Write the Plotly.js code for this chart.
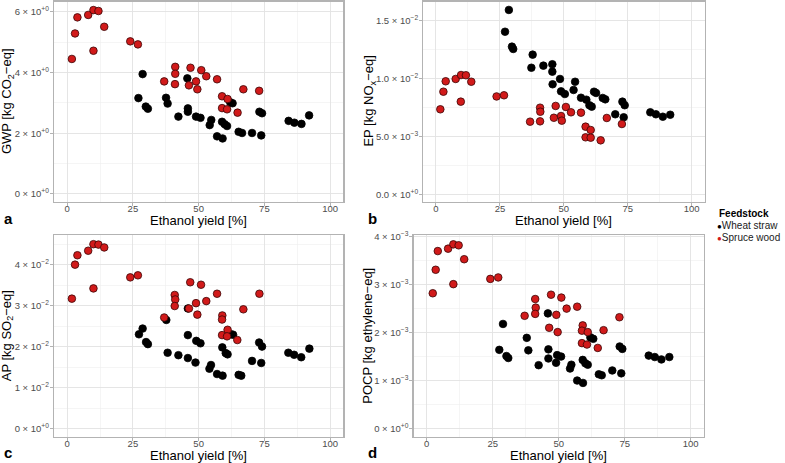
<!DOCTYPE html>
<html>
<head>
<meta charset="utf-8">
<script src="https://cdn.plot.ly/plotly-3.0.1.min.js"></script>
<style>html,body{margin:0;padding:0;background:#fff;}#chart{width:785px;height:463px;}</style>
</head>
<body>
<div id="chart"></div>
<script>
// ---------------- data ----------------
const feedstocks = ["Wheat straw", "Spruce wood"];
const xTicks = [0, 25, 50, 75, 100];
const xTickLabels = ["0", "25", "50", "75", "100"];

// Panel a: GWP [kg CO2-eq]
const wheatYieldGWP = [27.1, 28.7, 29.9, 30.7, 37.6, 38.2, 42.3, 45.7, 45.9, 45.9, 49.0, 50.7, 54.2, 54.8, 57.0, 58.9, 59.1, 59.9, 60.8, 62.0, 62.9, 65.2, 66.5, 70.3, 73.1, 73.8, 74.1, 84.2, 86.4, 89.1, 92.0];
const wheatGWP = [3.16, 3.95, 2.88, 2.81, 3.17, 2.98, 2.55, 3.81, 2.82, 2.71, 2.55, 2.51, 2.27, 2.44, 1.90, 2.38, 1.83, 2.30, 2.24, 3.02, 2.99, 2.05, 2.01, 2.01, 2.71, 1.93, 2.66, 2.41, 2.35, 2.31, 2.59];
const spruceYieldGWP = [1.8, 3.0, 3.9, 8.0, 10.0, 11.9, 14.1, 10.0, 24.0, 26.9, 36.9, 41.1, 41.1, 41.0, 46.9, 49.0, 46.3, 49.5, 51.0, 52.9, 57.0, 58.9, 61.0, 58.9, 60.8, 64.8, 67.0, 73.0];
const spruceGWP = [4.45, 5.29, 5.82, 5.90, 6.06, 6.03, 5.51, 4.72, 5.03, 4.93, 3.71, 4.19, 3.96, 3.62, 4.16, 3.71, 3.58, 3.45, 4.08, 3.88, 3.78, 3.22, 3.13, 2.83, 2.79, 2.68, 3.45, 3.40];
const gwpTicks = [0, 2, 4, 6];
const gwpTickLabels = ["0 × 10<sup>+0</sup>", "2 × 10<sup>+0</sup>", "4 × 10<sup>+0</sup>", "6 × 10<sup>+0</sup>"];

// Panel b: EP [kg NOx-eq]
const wheatYieldEP = [27.0, 28.5, 29.7, 30.2, 37.3, 37.8, 42.0, 45.5, 45.5, 45.6, 48.5, 48.9, 50.4, 53.8, 54.4, 56.7, 58.8, 60.0, 60.9, 61.8, 62.6, 65.2, 66.2, 70.1, 72.9, 73.4, 73.8, 83.8, 86.0, 88.7, 91.6];
const wheatEP = [0.01404, 0.01592, 0.01275, 0.01255, 0.01093, 0.01206, 0.01111, 0.01123, 0.01059, 0.00950, 0.00996, 0.00889, 0.00866, 0.00901, 0.00972, 0.00834, 0.00817, 0.00769, 0.00757, 0.00886, 0.00875, 0.00832, 0.00820, 0.00691, 0.00800, 0.00665, 0.00769, 0.00708, 0.00691, 0.00670, 0.00687];
const spruceYieldEP = [1.7, 2.9, 3.8, 7.7, 9.8, 11.7, 13.8, 9.7, 23.7, 26.6, 36.8, 40.7, 40.8, 40.7, 46.8, 46.1, 48.9, 49.2, 50.8, 52.8, 56.7, 58.5, 60.5, 58.5, 60.5, 64.4, 66.8, 72.7];
const spruceEP = [0.00734, 0.00886, 0.00976, 0.00996, 0.01030, 0.01028, 0.00972, 0.00800, 0.00845, 0.00855, 0.00627, 0.00748, 0.00713, 0.00630, 0.00763, 0.00661, 0.00676, 0.00636, 0.00754, 0.00708, 0.00705, 0.00584, 0.00555, 0.00492, 0.00489, 0.00466, 0.00659, 0.00607];
const epTicks = [0, 0.005, 0.01, 0.015];
const epTickLabels = ["0.0 × 10<sup>+0</sup>", "5.0 × 10<sup>−3</sup>", "1.0 × 10<sup>−2</sup>", "1.5 × 10<sup>−2</sup>"];

// Panel c: AP [kg SO2-eq]
const wheatYieldAP = [27.3, 28.7, 30.0, 30.7, 37.7, 38.2, 42.3, 45.9, 45.9, 45.9, 48.8, 49.1, 50.7, 54.1, 54.7, 57.0, 59.0, 59.1, 60.3, 61.0, 62.3, 63.1, 65.2, 66.2, 70.3, 73.0, 73.8, 74.1, 84.1, 86.3, 89.0, 92.1];
const wheatAP = [0.0230, 0.0244, 0.0211, 0.0206, 0.0265, 0.0185, 0.0179, 0.0293, 0.0228, 0.0172, 0.0161, 0.0214, 0.0208, 0.0146, 0.0155, 0.0133, 0.0198, 0.0129, 0.0184, 0.0181, 0.0230, 0.0229, 0.0131, 0.0129, 0.0165, 0.0210, 0.0160, 0.0200, 0.0185, 0.0180, 0.0174, 0.0195];
const spruceYieldAP = [1.8, 3.0, 3.9, 8.0, 10.0, 11.9, 14.1, 10.0, 24.0, 26.9, 36.9, 40.9, 41.1, 40.9, 46.8, 50.9, 46.3, 49.0, 49.5, 52.9, 57.0, 59.0, 58.9, 61.0, 58.9, 60.8, 64.7, 67.0, 73.1];
const spruceAP = [0.0317, 0.0400, 0.0423, 0.0434, 0.0450, 0.0449, 0.0442, 0.0342, 0.0369, 0.0374, 0.0271, 0.0326, 0.0315, 0.0299, 0.0357, 0.0351, 0.0293, 0.0306, 0.0278, 0.0311, 0.0329, 0.0276, 0.0266, 0.0241, 0.0228, 0.0225, 0.0216, 0.0291, 0.0329];
const apTicks = [0, 0.01, 0.02, 0.03, 0.04];
const apTickLabels = ["0 × 10<sup>+0</sup>", "1 × 10<sup>−2</sup>", "2 × 10<sup>−2</sup>", "3 × 10<sup>−2</sup>", "4 × 10<sup>−2</sup>"];

// Panel d: POCP [kg ethylene-eq]
const wheatYieldPOCP = [27.5, 28.9, 30.2, 30.9, 37.9, 38.5, 42.4, 45.9, 46.1, 46.1, 49.0, 49.4, 50.9, 54.3, 54.8, 57.0, 59.2, 59.1, 60.1, 61.0, 62.0, 63.1, 65.2, 66.3, 70.3, 73.1, 74.1, 73.7, 84.1, 86.4, 88.9, 91.9];
const wheatPOCP = [0.00164, 0.00218, 0.00151, 0.00147, 0.00189, 0.00163, 0.00132, 0.00240, 0.00165, 0.00146, 0.00137, 0.00153, 0.00150, 0.00125, 0.00133, 0.00100, 0.00095, 0.00143, 0.00136, 0.00133, 0.00190, 0.00187, 0.00113, 0.00111, 0.00121, 0.00171, 0.00166, 0.00115, 0.00152, 0.00149, 0.00144, 0.00149];
const spruceYieldPOCP = [2.3, 3.4, 4.2, 8.1, 10.1, 12.1, 14.2, 10.1, 24.1, 27.1, 37.1, 41.1, 41.3, 41.1, 47.1, 51.0, 46.4, 49.1, 49.6, 53.0, 57.0, 59.1, 58.8, 61.0, 58.8, 60.7, 64.8, 67.0, 73.0];
const sprucePOCP = [0.00282, 0.00331, 0.00370, 0.00375, 0.00384, 0.00382, 0.00353, 0.00301, 0.00312, 0.00315, 0.00235, 0.00270, 0.00252, 0.00239, 0.00279, 0.00273, 0.00210, 0.00237, 0.00201, 0.00250, 0.00254, 0.00215, 0.00204, 0.00201, 0.00178, 0.00175, 0.00168, 0.00205, 0.00232];
const pocpTicks = [0, 0.001, 0.002, 0.003, 0.004];
const pocpTickLabels = ["0 × 10<sup>+0</sup>", "1 × 10<sup>−3</sup>", "2 × 10<sup>−3</sup>", "3 × 10<sup>−3</sup>", "4 × 10<sup>−3</sup>"];

// ---------------- styling ----------------
const W = 785, H = 463;
const FONT = "Liberation Sans, Arial, Helvetica, sans-serif";
const wheatColor = "#000000";
const spruceColor = "#d11a1a";
const px = v => v / W;
const py = v => 1 - v / H;

function markerStyle(fill, line) {
  return { size: 7.6, color: fill, line: { color: line, width: 0.8 } };
}

function traces(xw, yw, xs, ys, xa, ya) {
  return [
    { type: "scatter", mode: "markers", name: feedstocks[0], x: xw, y: yw, xaxis: xa, yaxis: ya,
      marker: markerStyle(wheatColor, "#000000"), showlegend: false, hoverinfo: "x+y" },
    { type: "scatter", mode: "markers", name: feedstocks[1], x: xs, y: ys, xaxis: xa, yaxis: ya,
      marker: markerStyle(spruceColor, "#3a0505"), showlegend: false, hoverinfo: "x+y" }
  ];
}

const data = [].concat(
  traces(wheatYieldGWP, wheatGWP, spruceYieldGWP, spruceGWP, "x", "y"),
  traces(wheatYieldEP, wheatEP, spruceYieldEP, spruceEP, "x2", "y2"),
  traces(wheatYieldAP, wheatAP, spruceYieldAP, spruceAP, "x3", "y3"),
  traces(wheatYieldPOCP, wheatPOCP, spruceYieldPOCP, sprucePOCP, "x4", "y4")
);

const borderColor = "#b3b3b3";
const gridMajor = "#e2e2e2";
const gridMinor = "#efefef";

function xAxis(domainPx, anchor) {
  return {
    domain: [px(domainPx[0]), px(domainPx[1])], anchor: anchor,
    range: [-5, 105], tickmode: "array", tickvals: xTicks, ticktext: xTickLabels,
    showline: true, mirror: true, linecolor: borderColor, linewidth: 1.2,
    ticks: "outside", ticklen: 3, tickwidth: 1, tickcolor: borderColor,
    ticklabelstandoff: -5,
    showgrid: true, gridcolor: gridMajor, gridwidth: 0.9, zeroline: false,
    minor: { tickmode: "linear", tick0: 12.5, dtick: 25, showgrid: true, gridcolor: gridMinor, gridwidth: 0.6, ticks: "" },
    tickfont: { family: FONT, size: 9.5, color: "#4d4d4d" }, fixedrange: true
  };
}
function yAxis(domainPx, anchor, range, tickvals, ticktext, minor0, minorStep) {
  return {
    domain: [py(domainPx[1]), py(domainPx[0])], anchor: anchor,
    range: range, tickmode: "array", tickvals: tickvals, ticktext: ticktext,
    showline: true, mirror: true, linecolor: borderColor, linewidth: 1.2,
    ticks: "outside", ticklen: 3, tickwidth: 1, tickcolor: borderColor,
    ticklabelstandoff: -1,
    showgrid: true, gridcolor: gridMajor, gridwidth: 0.9, zeroline: false,
    minor: { tickmode: "linear", tick0: minor0, dtick: minorStep, showgrid: true, gridcolor: gridMinor, gridwidth: 0.6, ticks: "" },
    tickfont: { family: FONT, size: 9.5, color: "#4d4d4d" }, fixedrange: true
  };
}

// panel geometry in pixels
const aX = [54.0, 343.3], bX = [423.2, 704.5], cX = [54.0, 343.3], dX = [413.5, 703.9];
const topY = [1.5, 201.7], botY = [235.0, 436.5];

const titleFont = { family: FONT, size: 13, color: "#000000" };
const letterFont = { family: FONT, size: 15, color: "#000000" };

function ann(text, x, y, font, extra) {
  return Object.assign({ text: text, xref: "paper", yref: "paper", x: px(x), y: py(y),
    xanchor: "center", yanchor: "middle", showarrow: false, font: font }, extra || {});
}
const mid = a => (a[0] + a[1]) / 2;

const annotations = [
  ann("Ethanol yield [%]", mid(aX), 220.5, titleFont),
  ann("Ethanol yield [%]", mid(bX), 220.5, titleFont),
  ann("Ethanol yield [%]", mid(cX), 455, titleFont),
  ann("Ethanol yield [%]", mid(dX), 455, titleFont),
  ann("GWP [kg CO<sub>2</sub>−eq]", 7.5, mid(topY), titleFont, { textangle: -90 }),
  ann("EP [kg NO<sub>x</sub>−eq]", 370, mid(topY), titleFont, { textangle: -90 }),
  ann("AP [kg SO<sub>2</sub>−eq]", 7.5, mid(botY), titleFont, { textangle: -90 }),
  ann("POCP [kg ethylene−eq]", 368, mid(botY), titleFont, { textangle: -90 }),
  ann("<b>a</b>", 8, 218, letterFont),
  ann("<b>b</b>", 372, 218, letterFont),
  ann("<b>c</b>", 8, 452, letterFont),
  ann("<b>d</b>", 372, 452, letterFont),
  ann("<b>" + "Feedstock" + "</b>", 716.5, 213.5, { family: FONT, size: 10, color: "#000000" }, { xanchor: "left" }),
  ann("<span style='color:" + wheatColor + ";font-size:8px'>●</span>" + feedstocks[0], 714.5, 225.5, { family: FONT, size: 10, color: "#1a1a1a" }, { xanchor: "left" }),
  ann("<span style='color:" + spruceColor + ";font-size:8px'>●</span>" + feedstocks[1], 714.5, 237.5, { family: FONT, size: 10, color: "#1a1a1a" }, { xanchor: "left" })
];

const layout = {
  width: W, height: H,
  margin: { l: 0, r: 0, t: 0, b: 0, pad: 0 },
  paper_bgcolor: "#ffffff", plot_bgcolor: "#ffffff",
  font: { family: FONT },
  showlegend: false,
  xaxis: xAxis(aX, "y"),
  yaxis: yAxis(topY, "x", [-0.254, 6.343], gwpTicks, gwpTickLabels, 1, 2),
  xaxis2: xAxis(bX, "y2"),
  yaxis2: yAxis(topY, "x2", [-0.00064, 0.01665], epTicks, epTickLabels, 0.0025, 0.005),
  xaxis3: xAxis(cX, "y3"),
  yaxis3: yAxis(botY, "x3", [-0.00195, 0.04724], apTicks, apTickLabels, 0.005, 0.01),
  xaxis4: xAxis(dX, "y4"),
  yaxis4: yAxis(botY, "x4", [-0.000167, 0.004035], pocpTicks, pocpTickLabels, 0.0005, 0.001),
  annotations: annotations
};

Plotly.newPlot("chart", data, layout, { displayModeBar: false, staticPlot: true });
</script>
</body>
</html>
